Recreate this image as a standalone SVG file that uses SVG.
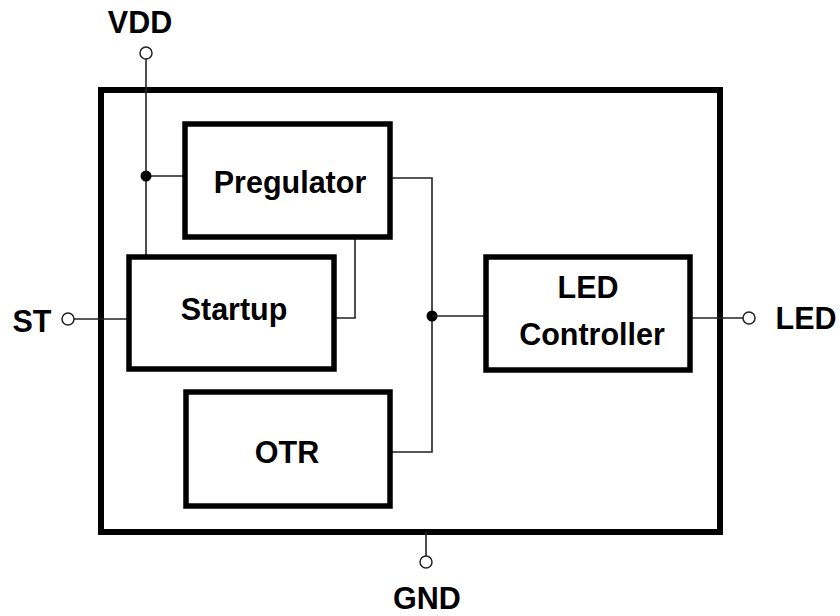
<svg xmlns="http://www.w3.org/2000/svg" width="840" height="616" viewBox="0 0 840 616">
<style>
.box{fill:#fff;stroke:#000;stroke-width:5.5}
.frame{fill:none;stroke:#000;stroke-width:6}
.wire{fill:none;stroke:#222;stroke-width:1.6}
.pin{fill:#fff;stroke:#222;stroke-width:1.5}
.dot{fill:#000}
text{font-family:"Liberation Sans",Arial,sans-serif;font-weight:bold;font-size:30.5px;fill:#000;text-anchor:middle}
</style>
<rect fill="#fff" width="840" height="616"/>
<g id="frame"><rect class="frame" x="101" y="90" width="619" height="442"/></g>
<g id="connectors">
<line class="wire" x1="146" y1="59" x2="146" y2="255"/>
<line class="wire" x1="146" y1="176" x2="185" y2="176"/>
<circle class="dot" cx="146" cy="176" r="5.5"/>
<line class="wire" x1="74" y1="319" x2="129" y2="319"/>
<polyline class="wire" points="390,178 432,178 432,452 390,452"/>
<circle class="dot" cx="432" cy="316" r="5.5"/>
<line class="wire" x1="432" y1="316" x2="486" y2="316"/>
<polyline class="wire" points="355,237 355,318 334,318"/>
<line class="wire" x1="690" y1="318" x2="743" y2="318"/>
<line class="wire" x1="426" y1="532" x2="426" y2="556"/>
</g>
<g id="pregulator"><rect class="box" x="185" y="124" width="205" height="113"/><text x="290" y="193">Pregulator</text></g>
<g id="startup"><rect class="box" x="129" y="257" width="205" height="112"/><text x="234" y="320">Startup</text></g>
<g id="otr"><rect class="box" x="186" y="392" width="204" height="114"/><text x="287" y="463">OTR</text></g>
<g id="led-controller"><rect class="box" x="486" y="257" width="204" height="113"/><text x="588" y="298">LED</text><text x="592" y="345">Controller</text></g>
<g id="pin-vdd"><circle class="pin" cx="146" cy="53" r="6"/><text x="140" y="33">VDD</text></g>
<g id="pin-st"><circle class="pin" cx="68" cy="319" r="6"/><text x="32" y="332">ST</text></g>
<g id="pin-led"><circle class="pin" cx="749" cy="318" r="6"/><text x="806" y="329">LED</text></g>
<g id="pin-gnd"><circle class="pin" cx="426" cy="562" r="6"/><text x="427" y="609">GND</text></g>
</svg>
